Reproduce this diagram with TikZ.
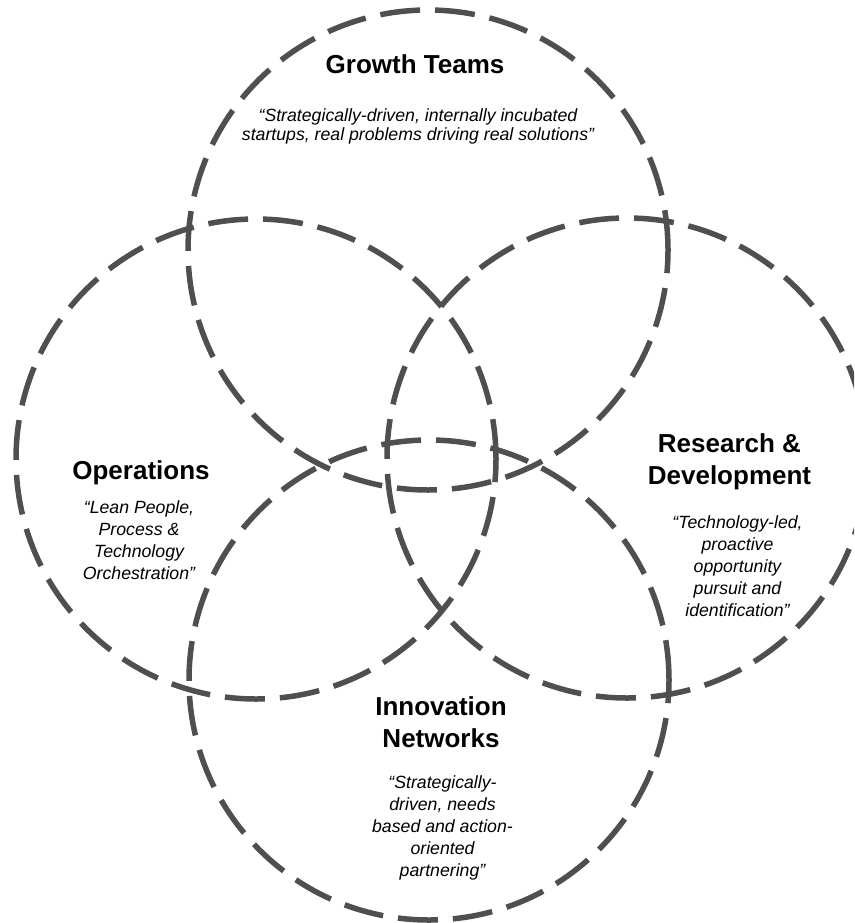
\documentclass[tikz,border=0pt]{standalone}
\usepackage{fontspec}
\setmainfont{Liberation Sans}
\begin{document}
\begin{tikzpicture}[x=1pt,y=-1pt,
  ring/.style={circle, draw=ringgray, line width=5.5pt,
    dash pattern=on 40pt off 15pt, minimum size=480pt, inner sep=0pt},
  heading/.style={anchor=base, align=center, inner sep=0pt,
    font=\bfseries\fontsize{26}{31.5}\selectfont},
  quote/.style={anchor=base, align=center, inner sep=0pt,
    font=\itshape\fontsize{17.7}{22}\selectfont}]
\definecolor{ringgray}{HTML}{4F4F4F}
\useasboundingbox (0,0) rectangle (854,923);
\clip (0,0) rectangle (854,923);

% the four overlapping dashed circles
\node[ring] (growth) at (428,250) {};
\node[ring] (ops)    at (256,459) {};
\node[ring] (rnd)    at (627,458) {};
\node[ring] (innov)  at (429,680) {};

% labels are placed by the baseline of their last line
% Growth Teams
\node[heading] (growthTitle) at (415,73.5) {Growth Teams};
\node[quote, font=\itshape\fontsize{17.7}{19}\selectfont] (growthText) at (418,140)
  {“Strategically-driven, internally incubated\\startups, real problems driving real solutions”};

% Operations
\node[heading] (opsTitle) at (141,479.3) {Operations};
\node[quote] (opsText) at (139,579.5)
  {“Lean People,\\Process \&\\Technology\\Orchestration”};

% Research & Development
\node[heading] (rndTitle) at (729.5,484) {Research \&\\Development};
\node[quote] (rndText) at (737.5,616.7)
  {“Technology-led,\\proactive\\opportunity\\pursuit and\\identification”};

% Innovation Networks
\node[heading] (innovTitle) at (441,747.3) {Innovation\\Networks};
\node[quote] (innovText) at (442.5,876.7)
  {“Strategically-\\driven, needs\\based and action-\\oriented\\partnering”};
\end{tikzpicture}
\end{document}
